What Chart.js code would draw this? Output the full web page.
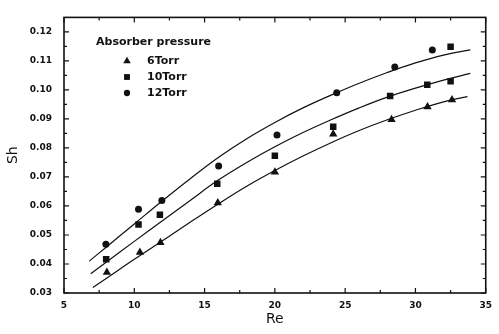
<!DOCTYPE html>
<html>
<head>
<meta charset="utf-8">
<script src="https://cdn.jsdelivr.net/npm/chart.js@4.4.1/dist/chart.umd.min.js"></script>
<style>
  html, body { margin: 0; padding: 0; background: #fff; overflow: hidden; }
  #wrap { width: 499px; height: 334px; }
</style>
</head>
<body>
<div id="wrap"><canvas id="c" width="499" height="334"></canvas></div>
<script>
// axis ticks
const xTicks = [5, 10, 15, 20, 25, 30, 35];
const xMinor = [7.5, 12.5, 17.5, 22.5, 27.5, 32.5];
const yTicks = [0.03, 0.04, 0.05, 0.06, 0.07, 0.08, 0.09, 0.10, 0.11, 0.12];
const yMinor = [0.035, 0.045, 0.055, 0.065, 0.075, 0.085, 0.095, 0.105, 0.115];

const legendTitle = 'Absorber pressure';
const seriesLabels = ['6Torr', '10Torr', '12Torr'];

const re6  = [8.05, 10.4, 11.86, 15.94, 20.0, 24.15, 28.3, 30.86, 32.6];
const sh6  = [0.0371, 0.0440, 0.0474, 0.0611, 0.0717, 0.0848, 0.0898, 0.0942, 0.0966];
const re10 = [8.0, 10.3, 11.82, 15.9, 20.0, 24.15, 28.2, 30.84, 32.5, 32.5];
const sh10 = [0.0416, 0.0536, 0.0570, 0.0677, 0.0773, 0.0873, 0.0979, 0.1018, 0.1030, 0.1149];
const re12 = [7.98, 10.3, 11.96, 16.0, 20.15, 24.4, 28.53, 31.2];
const sh12 = [0.0468, 0.0589, 0.0619, 0.0738, 0.0845, 0.0990, 0.1079, 0.1138];

// fitted curves (traced)
const fitRe6  = [7.05, 8, 10, 12, 14, 16, 18, 20, 22, 24, 26, 28, 30, 32, 33.7];
const fitSh6  = [0.0319, 0.0350, 0.0416, 0.0480, 0.0545, 0.0608, 0.0668, 0.0722, 0.0772, 0.0818, 0.0860, 0.0897, 0.0930, 0.0959, 0.0977];
const fitRe10 = [6.9, 8, 10, 12, 14, 16, 18, 20, 22, 24, 26, 28, 30, 32, 33.9];
const fitSh10 = [0.0366, 0.0406, 0.0478, 0.0549, 0.0620, 0.0690, 0.0750, 0.0804, 0.0853, 0.0897, 0.0938, 0.0975, 0.1006, 0.1034, 0.1057];
const fitRe12 = [6.8, 8, 10, 12, 14, 16, 18, 20, 22, 24, 26, 28, 30, 32, 33.9];
const fitSh12 = [0.0410, 0.0458, 0.0538, 0.0618, 0.0695, 0.0768, 0.0832, 0.0888, 0.0938, 0.0982, 0.1023, 0.1060, 0.1093, 0.1120, 0.1138];

const toPts = (xs, ys) => xs.map((x, i) => ({ x, y: ys[i] }));

const ink = '#111';
const tickFont = { family: 'DejaVu Sans', size: 9, weight: 'bold' };

// frame + inward ticks on all four sides
const boxTicks = {
  id: 'boxTicks',
  afterDraw(chart) {
    const { ctx, chartArea: a, scales: { x, y } } = chart;
    ctx.save();
    ctx.strokeStyle = ink;
    ctx.lineWidth = 1.6;
    ctx.strokeRect(a.left, a.top, a.right - a.left, a.bottom - a.top);
    ctx.lineWidth = 1.2;
    ctx.beginPath();
    const vx = (v, len) => {
      const p = x.getPixelForValue(v);
      ctx.moveTo(p, a.bottom); ctx.lineTo(p, a.bottom - len);
      ctx.moveTo(p, a.top); ctx.lineTo(p, a.top + len);
    };
    const vy = (v, len) => {
      const p = y.getPixelForValue(v);
      ctx.moveTo(a.left, p); ctx.lineTo(a.left + len, p);
      ctx.moveTo(a.right, p); ctx.lineTo(a.right - len, p);
    };
    xTicks.forEach(v => vx(v, 5));
    xMinor.forEach(v => vx(v, 3));
    yTicks.forEach(v => vy(v, 5));
    yMinor.forEach(v => vy(v, 3));
    ctx.stroke();
    ctx.restore();
  }
};

// legend inside the plot, upper left
const innerLegend = {
  id: 'innerLegend',
  afterDraw(chart, args, opts) {
    const { ctx } = chart;
    ctx.save();
    ctx.fillStyle = ink;
    ctx.font = 'bold 11px "DejaVu Sans"';
    ctx.textBaseline = 'middle';
    ctx.textAlign = 'left';
    ctx.fillText(legendTitle, opts.x, opts.y);
    chart.data.datasets.filter(d => d.inLegend).forEach((d, i) => {
      const cy = opts.y + opts.first + i * opts.step;
      Chart.helpers.drawPoint(ctx, {
        pointStyle: d.pointStyle, radius: d.pointRadius * 0.9, rotation: 0, borderWidth: 0
      }, opts.markX, cy);
      ctx.fillStyle = ink;
      ctx.fillText(d.label, opts.textX, cy);
    });
    ctx.restore();
  }
};

const pointSet = (label, xs, ys, style, r) => ({
  label, inLegend: true, data: toPts(xs, ys),
  pointStyle: style, pointRadius: r, pointHoverRadius: r,
  backgroundColor: ink, borderColor: ink, borderWidth: 0, showLine: false
});
const curveSet = (xs, ys) => ({
  label: 'fit', data: toPts(xs, ys), showLine: true, pointRadius: 0,
  borderColor: ink, borderWidth: 1.2, tension: 0.4, fill: false
});

new Chart(document.getElementById('c'), {
  type: 'scatter',
  data: {
    datasets: [
      pointSet(seriesLabels[0], re6, sh6, 'triangle', 4.8),
      pointSet(seriesLabels[1], re10, sh10, 'rect', 4.6),
      pointSet(seriesLabels[2], re12, sh12, 'circle', 3.5),
      curveSet(fitRe6, fitSh6),
      curveSet(fitRe10, fitSh10),
      curveSet(fitRe12, fitSh12)
    ]
  },
  options: {
    responsive: false,
    animation: false,
    layout: { padding: { left: 0, top: 9, right: 5, bottom: 0 } },
    scales: {
      x: {
        type: 'linear', min: 5, max: 35,
        afterBuildTicks: s => { s.ticks = xTicks.map(v => ({ value: v })); },
        afterFit: s => { s.height = 41; },
        grid: { display: false, drawTicks: false },
        border: { display: false },
        ticks: { padding: 7, color: ink, font: tickFont, maxRotation: 0, callback: v => String(v) },
        title: { display: true, text: 'Re', color: ink, font: { family: 'DejaVu Sans', size: 14 }, padding: { top: 0, bottom: 6.6 } }
      },
      y: {
        type: 'linear', min: 0.03, max: 0.125,
        afterBuildTicks: s => { s.ticks = yTicks.map(v => ({ value: v })); },
        afterFit: s => { s.width = 64; },
        grid: { display: false, drawTicks: false },
        border: { display: false },
        ticks: { padding: 12, color: ink, font: tickFont, callback: v => v.toFixed(2) },
        title: { display: true, text: 'Sh', color: ink, font: { family: 'DejaVu Sans', size: 14 }, padding: { top: 5, bottom: 0 } }
      }
    },
    plugins: {
      legend: { display: false },
      tooltip: { enabled: false },
      innerLegend: { x: 96, y: 42, first: 19, step: 16, markX: 127, textX: 147 }
    }
  },
  plugins: [boxTicks, innerLegend]
});
</script>
</body>
</html>
